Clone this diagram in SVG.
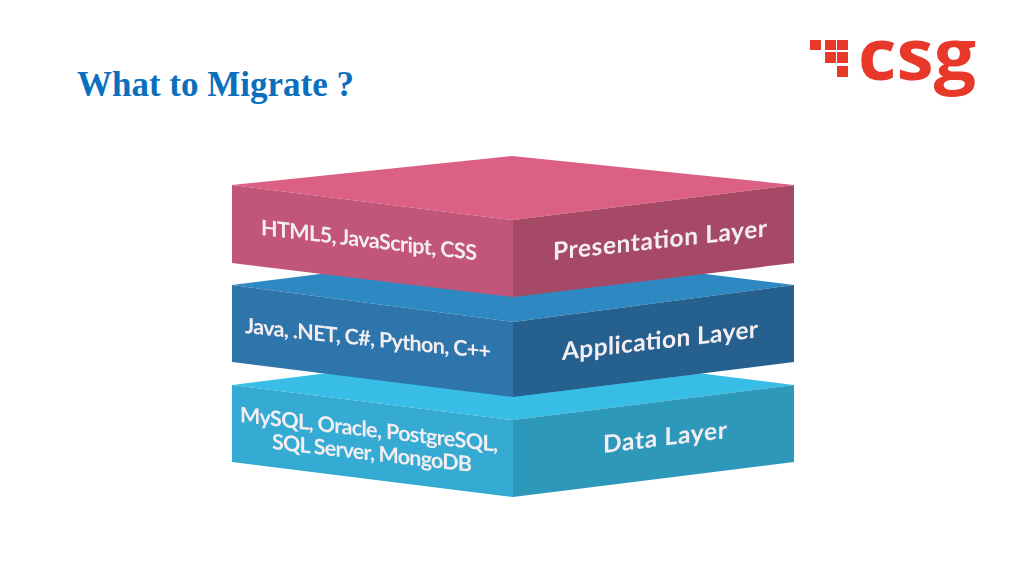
<svg xmlns="http://www.w3.org/2000/svg" width="1024" height="576" viewBox="0 0 1024 576">
<defs>
<style>
.lbl{font-family:"Lato","Open Sans",sans-serif;font-weight:700;font-size:21.5px;fill:#f4eef2}
.big{font-size:24.5px}
.title{font-family:"Liberation Serif","Times New Roman",serif;font-weight:700;font-size:35px;fill:#0a70bd}
.logo{fill:#e8382a}
.soft{filter:url(#soft)}
</style>
<filter id="soft" x="-5%" y="-5%" width="110%" height="110%"><feGaussianBlur stdDeviation="0.5"/></filter>
</defs>
<rect width="1024" height="576" fill="#ffffff"/>
<g id="title"><text class="title" x="77" y="96" textLength="277" lengthAdjust="spacingAndGlyphs">What to Migrate ?</text></g>
<g id="logo">
<rect class="logo" x="810" y="40" width="11" height="10"/>
<rect class="logo" x="825" y="40" width="11" height="10"/>
<rect class="logo" x="837" y="40" width="11" height="10"/>
<rect class="logo" x="825" y="52" width="11" height="11"/>
<rect class="logo" x="837" y="52" width="11" height="11"/>
<rect class="logo" x="837" y="66" width="11" height="11"/>
<text class="logo" x="858" y="80" font-family="'Open Sans',sans-serif" font-weight="700" font-size="72" textLength="118" lengthAdjust="spacingAndGlyphs">csg</text>
</g>
<g id="data-layer" class="soft">
<polygon points="232,385 512,350 794,385 513,420" fill="#39bde7"/>
<polygon points="232,385 513,420 513,497 232,462" fill="#34abd4"/>
<polygon points="513,420 794,385 794,462 513,497" fill="#2f98bb"/>
<text class="lbl" transform="matrix(1,0.115,0,1,240,422)" textLength="258" lengthAdjust="spacing">MySQL, Oracle, PostgreSQL,</text>
<text class="lbl" transform="matrix(1,0.115,0,1,272,449)" textLength="200" lengthAdjust="spacing">SQL Server, MongoDB</text>
<text class="lbl big" transform="matrix(1,-0.12,0,1,603,453)" textLength="124" lengthAdjust="spacing">Data Layer</text>
</g>
<g id="application-layer" class="soft">
<polygon points="232,285 512,250 794,285 513,322" fill="#2e88c1"/>
<polygon points="232,285 513,322 513,397 232,362" fill="#2f74ab"/>
<polygon points="513,322 794,285 794,362 513,397" fill="#27608e"/>
<text class="lbl" transform="matrix(1,0.105,0,1,245,333)" textLength="246" lengthAdjust="spacing">Java, .NET, C#, Python, C++</text>
<text class="lbl big" transform="matrix(1,-0.115,0,1,562,360)" textLength="196" lengthAdjust="spacing">Application Layer</text>
</g>
<g id="presentation-layer" class="soft">
<polygon points="232,185 512,156 794,185 513,220" fill="#dc6084"/>
<polygon points="232,185 513,220 513,297 232,263" fill="#c2567a"/>
<polygon points="513,220 794,185 794,263 513,297" fill="#a64a66"/>
<text class="lbl" transform="matrix(1,0.117,0,1,261,235)" textLength="216" lengthAdjust="spacing">HTML5, JavaScript, CSS</text>
<text class="lbl big" transform="matrix(1,-0.11,0,1,553,260)" textLength="214" lengthAdjust="spacing">Presentation Layer</text>
</g>
</svg>
